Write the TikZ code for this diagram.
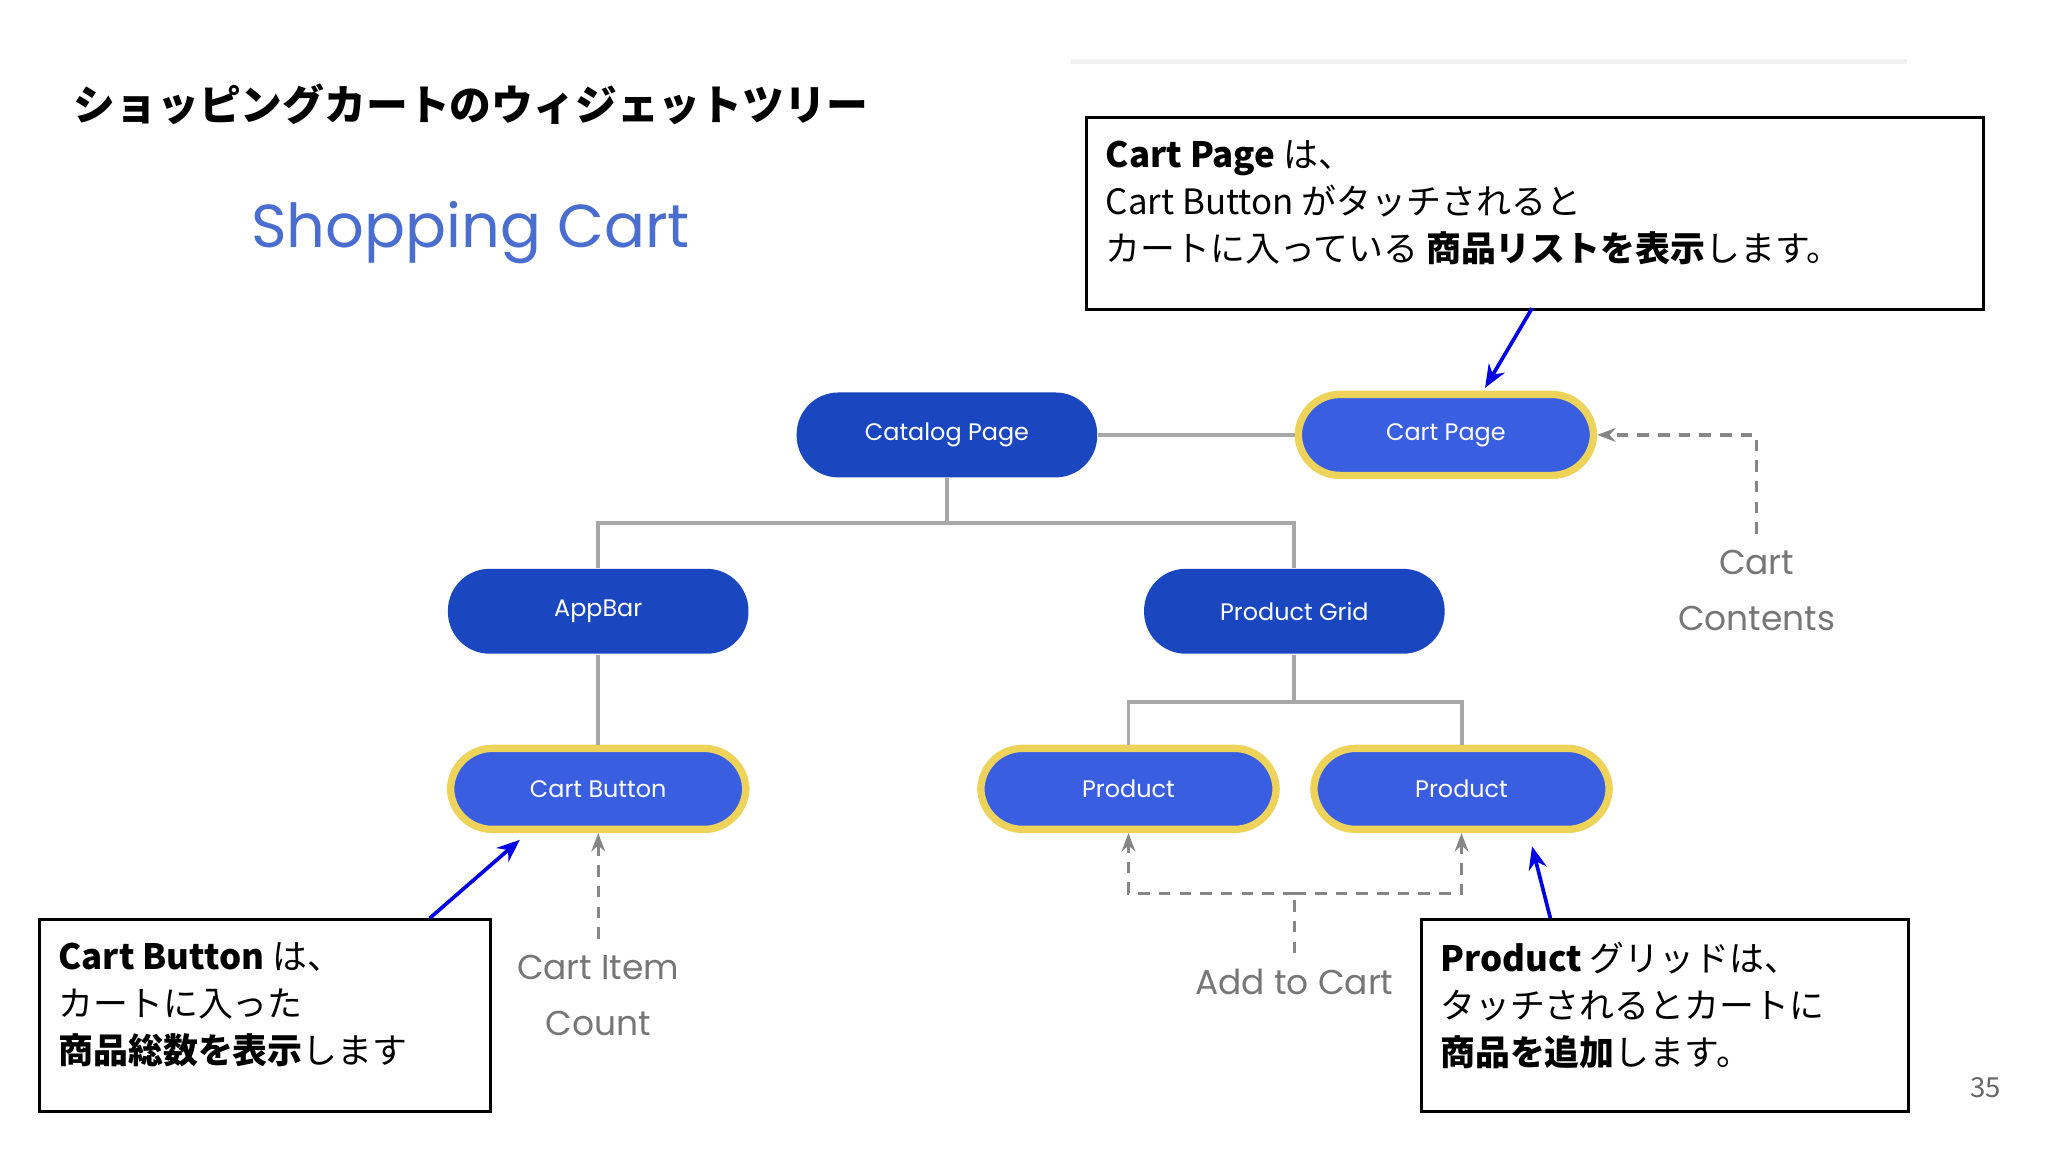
\documentclass[tikz,border=0pt]{standalone}
\usepackage{fontspec}
\setmainfont{Noto Sans CJK JP}
\newfontfamily\pop{Poppins}
\usetikzlibrary{arrows.meta}
\definecolor{dk}{HTML}{1A46C0}
\definecolor{lt}{HTML}{3A5EE0}
\definecolor{yl}{HTML}{EED35A}
\definecolor{ln}{HTML}{A8A8A8}
\definecolor{tt}{HTML}{4A6ED0}
\begin{document}
\begin{tikzpicture}[x=0.01cm,y=-0.01cm,
 dkp/.style={draw=none,fill=dk,rounded corners=32*0.01cm,minimum width=2.3cm,minimum height=0.65cm,text=white,font=\pop\fontsize{5.2}{7}\selectfont},
 ltp/.style={draw=yl,line width=1.6pt,fill=lt,rounded corners=32*0.01cm,minimum width=2.26cm,minimum height=0.62cm,text=white,font=\pop\fontsize{5.2}{7}\selectfont},
 con/.style={ln,line width=0.85pt},
 dsh/.style={ln!80!black,line width=0.7pt,dash pattern=on 2.5pt off 2pt},
 lab/.style={text=ln!70!black,font=\pop\fontsize{7.5}{12.2}\selectfont,align=center},
 box/.style={draw=black,line width=0.6pt,anchor=north west,align=left,inner sep=0pt,text width=#1},
 txt/.style={anchor=north west,align=left,font=\fontsize{7.6}{10.2}\selectfont,inner sep=0pt},
 bar/.style={blue!90!black,line width=0.8pt,-{Stealth[length=5pt,width=4pt]}}]
\useasboundingbox (0,0) rectangle (1568,882);
\fill[white] (0,0) rectangle (1568,882);
\draw[black!6,line width=1.2pt] (820,47) -- (1460,47);
\node[anchor=west,font=\bfseries\fontsize{9.1}{11}\selectfont] (title) at (44,80) {ショッピングカートのウィジェットツリー};
\node[anchor=west,text=tt,font=\pop\fontsize{13.2}{16}\selectfont] (sc) at (180,178) {Shopping Cart};
% nodes
\node[dkp] (cat) at (725,333) {Catalog Page};
\node[ltp] (cp) at (1107,333) {Cart Page};
\node[dkp] (ab) at (458,468) {AppBar};
\node[dkp] (pg) at (991,468) {Product Grid};
\node[ltp] (cb) at (458,604) {Cart Button};
\node[ltp] (p1) at (864,604) {Product};
\node[ltp] (p2) at (1119,604) {Product};
% connectors
\draw[con] (cat) -- (cp);
\draw[con] (cat.south) -- ++(0,34) -| (ab.north);
\draw[con] (cat.south) ++(0,34) -| (pg.north);
\draw[con] (ab) -- (cb);
\draw[con] (pg.south) -- ++(0,36) -| (p1.north);
\draw[con] (pg.south) ++(0,36) -| (p2.north);
% labels
\node[lab] (cc) at (1345,452) {Cart\\Contents};
\node[lab] (ci) at (458,762) {Cart Item\\Count};
\node[lab] (ac) at (991,752) {Add to Cart};
\draw[dsh,-{Stealth[length=4pt,width=3pt]}] (cc.north) |- (cp.east);
\draw[dsh,-{Stealth[length=4pt,width=3pt]}] (ci.north) -- (cb.south);
\coordinate (acj) at (991,684);
\draw[dsh] (ac.north) -- (acj);
\draw[dsh,-{Stealth[length=4pt,width=3pt]}] (acj) -| (p1.south);
\draw[dsh,-{Stealth[length=4pt,width=3pt]}] (acj) -| (p2.south);
% boxes
\node[box=6.86cm,minimum height=1.47cm] (b1) at (831,89) {};
\node[txt] (t1) at (846,107) {\textbf{Cart Page} は、\\Cart Button がタッチされると\\カートに入っている \textbf{商品リストを表示}します。};
\node[box=3.45cm,minimum height=1.47cm] (b2) at (29,703) {};
\node[txt] (t2) at (44,721) {\textbf{Cart Button} は、\\カートに入った\\\textbf{商品総数を表示}します};
\node[box=3.73cm,minimum height=1.47cm] (b3) at (1087,703) {};
\node[txt] (t3) at (1102,721) {\textbf{Product} グリッドは、\\タッチされるとカートに\\\textbf{商品を追加}します。};
\coordinate (a1) at (1173,236);
\coordinate (a2) at (329,703);
\coordinate (a3) at (1187,703);
\draw[bar] (a1) -- (1137,297);
\draw[bar] (a2) -- (398,643);
\draw[bar] (a3) -- (1173,648);
\node[text=black!60,font=\fontsize{6}{7}\selectfont] (pn) at (1520,833) {35};
\end{tikzpicture}
\end{document}
